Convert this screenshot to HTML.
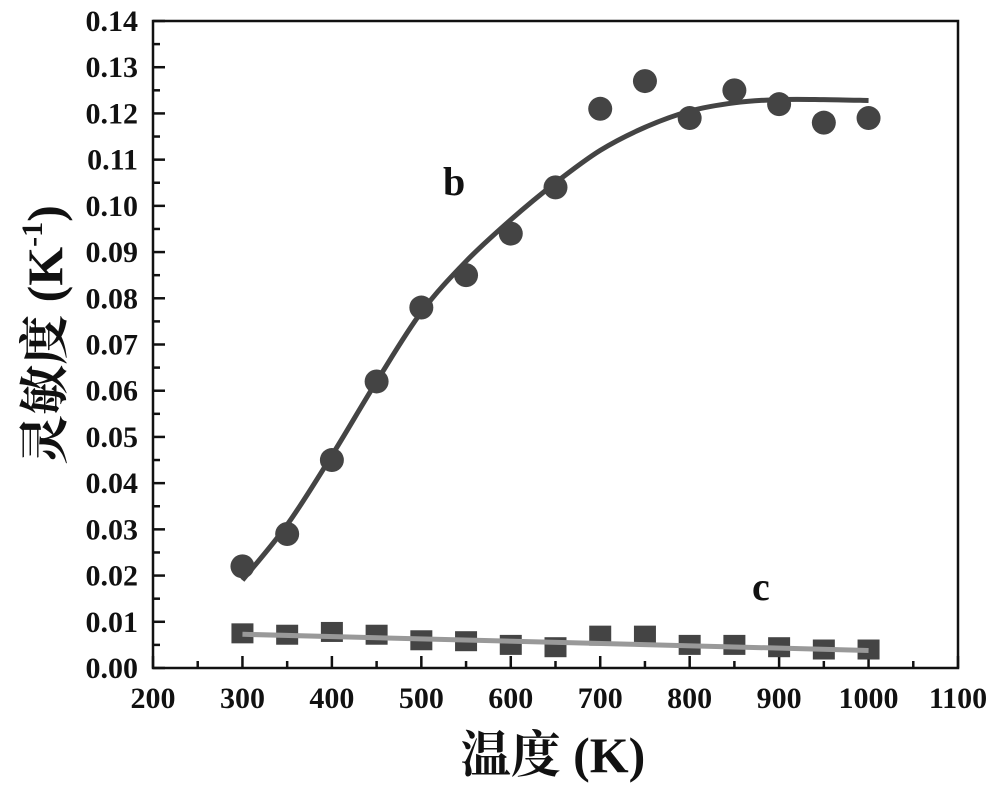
<!DOCTYPE html>
<html><head><meta charset="utf-8"><style>
body{margin:0;background:#fff}
svg text{font-family:"Liberation Serif","Noto Serif CJK SC",serif;font-weight:bold;fill:#111}
</style></head><body>
<svg id="s" width="1000" height="792" xmlns="http://www.w3.org/2000/svg"></svg>
<script>
const s=document.getElementById('s');
const X0=153,X1=958,Y0=668,Y1=21;
const fx=v=>X0+(v-200)/900*(X1-X0), fy=v=>Y0-v/0.14*(Y0-Y1);
let h='';
h+=`<rect x="${X0}" y="${Y1}" width="${X1-X0}" height="${Y0-Y1}" fill="none" stroke="#111" stroke-width="2.5"/>`;
for(let v=200;v<=1100;v+=50){const x=fx(v),maj=v%100==0;
 h+=`<line x1="${x}" y1="${Y0}" x2="${x}" y2="${Y0-(maj?12:7)}" stroke="#111" stroke-width="2.5"/>`;
 if(maj)h+=`<text x="${x}" y="${Y0+40}" font-size="30" text-anchor="middle">${v}</text>`;}
for(let i=0;i<=28;i++){const v=i*0.005,y=fy(v),maj=i%2==0;
 h+=`<line x1="${X0}" y1="${y}" x2="${X0+(maj?12:7)}" y2="${y}" stroke="#111" stroke-width="2.5"/>`;
 if(maj)h+=`<text x="138" y="${y+10}" font-size="30" text-anchor="end">${(v).toFixed(2)}</text>`;}
const k=[[300,0.019],[350,0.031],[400,0.046],[450,0.062],[500,0.077],[550,0.088],[600,0.097],[650,0.105],[700,0.112],[750,0.117],[800,0.1205],[850,0.1223],[900,0.123],[950,0.123],[1000,0.1228]];
let d=`M${fx(k[0][0])},${fy(k[0][1])}`;
for(let i=0;i<k.length-1;i++){const p0=k[Math.max(0,i-1)],p1=k[i],p2=k[i+1],p3=k[Math.min(k.length-1,i+2)];
 const c1=[p1[0]+(p2[0]-p0[0])/6,p1[1]+(p2[1]-p0[1])/6],c2=[p2[0]-(p3[0]-p1[0])/6,p2[1]-(p3[1]-p1[1])/6];
 d+=` C${fx(c1[0])},${fy(c1[1])} ${fx(c2[0])},${fy(c2[1])} ${fx(p2[0])},${fy(p2[1])}`;}
h+=`<path d="${d}" fill="none" stroke="#444" stroke-width="5"/>`;
const b=[0.022,0.029,0.045,0.062,0.078,0.085,0.094,0.104,0.121,0.127,0.119,0.125,0.122,0.118,0.119];
b.forEach((v,i)=>h+=`<circle cx="${fx(300+50*i)}" cy="${fy(v)}" r="12" fill="#444"/>`);
const c=[0.0075,0.0072,0.0078,0.0072,0.006,0.0058,0.005,0.0045,0.007,0.007,0.005,0.005,0.0045,0.004,0.004];
c.forEach((v,i)=>h+=`<rect x="${fx(300+50*i)-11}" y="${fy(v)-10}" width="22" height="20" fill="#444"/>`);
h+=`<polyline points="${fx(300)},${fy(0.0073)} ${fx(1000)},${fy(0.0038)}" fill="none" stroke="#999" stroke-width="5"/>`;
h+=`<text x="443" y="195" font-size="40">b</text><text x="752" y="600" font-size="40">c</text>`;
h+=`<text x="553" y="772" font-size="50" text-anchor="middle">温度 (K)</text>`;
h+=`<text transform="translate(62,335) rotate(-90)" font-size="50" text-anchor="middle">灵敏度 (K<tspan font-size="30" dy="-20">-1</tspan><tspan dy="20">)</tspan></text>`;
s.innerHTML=h;
</script>
</body></html>
